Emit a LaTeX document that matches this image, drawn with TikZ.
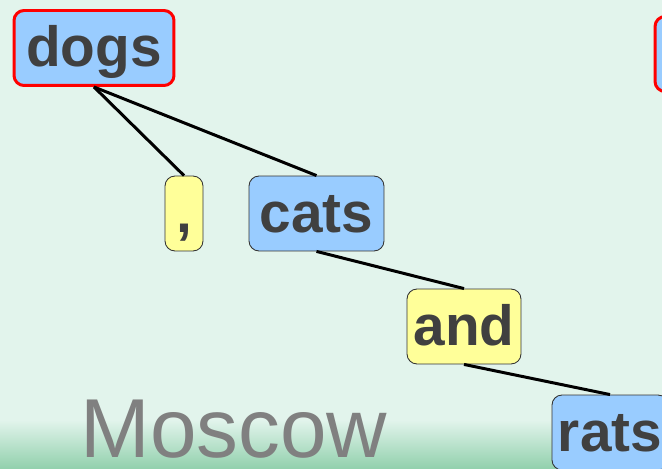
\documentclass[tikz,border=0pt]{standalone}
\usepackage{fontspec}
\usepackage{tikz}
\usetikzlibrary{positioning}
\newfontfamily\wordfont{Liberation Sans}

\definecolor{bgmint}{RGB}{226,244,236}
\definecolor{bggreen}{RGB}{145,208,172}
\definecolor{nounblue}{RGB}{153,204,255}
\definecolor{conjyellow}{RGB}{255,255,153}
\definecolor{wordgray}{RGB}{64,64,64}

\tikzset{
  word/.style={draw=black!80, line width=0.5pt, rounded corners=0.2cm,
    minimum height=1.5cm, inner xsep=0pt,
    text height=1.0cm, text depth=0.24cm, text=wordgray,
    font=\wordfont\bfseries\fontsize{32.3}{36}\selectfont},
  noun/.style={word, fill=nounblue},
  conj/.style={word, fill=conjyellow},
  head/.style={draw=red, line width=1.7pt},
  link/.style={-, line width=1.7pt, black}
}

\begin{document}
\begin{tikzpicture}[x=0.02cm, y=-0.02cm]
    \clip (0,0) rectangle (662,469);
    \fill[bgmint] (0,0) rectangle (662,469);
    \shade[top color=bgmint, bottom color=bggreen] (0,420) rectangle (662,469);

    \node[noun, head, minimum width=3.2cm] (dogs) at (94, 48)  {dogs};
    \node[conj, minimum width=0.76cm]      (comma) at (184, 213.5) {,};
    \node[noun, minimum width=2.7cm]       (cats) at (316.5, 213.5) {cats};
    \node[conj, minimum width=2.28cm]      (and) at (464, 326.5) {and};
    \node[noun, minimum width=2.32cm]      (rats) at (610, 432.5) {rats};
    \node[noun, head, minimum width=3.2cm] (next) at (735, 54) {};

    \node[anchor=base west, text=black!50, inner sep=0pt,
          font=\wordfont\fontsize{47.6}{50}\selectfont] (city) at (80, 457) {Moscow};

    \path[link]
    (dogs.south) edge (comma.north)
    (dogs.south) edge (cats.north)
    (cats.south) edge (and.north)
    (and.south) edge (rats.north);
\end{tikzpicture}
\end{document}
